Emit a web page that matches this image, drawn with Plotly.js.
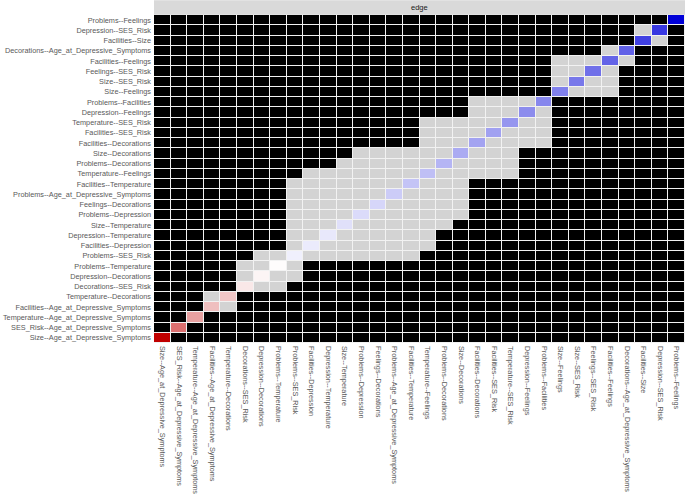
<!DOCTYPE html>
<html>
<head>
<meta charset="utf-8">
<script src="https://cdn.plot.ly/plotly-3.0.1.min.js"></script>
<style>html,body{margin:0;padding:0;background:#fff;}#chart{width:685px;height:496px;}</style>
</head>
<body>
<div id="chart"></div>
<script>
// Edges, in axis order (bottom-to-top on y, left-to-right on x)
const edges = [
  "Size--Age_at_Depressive_Symptoms",
  "SES_Risk--Age_at_Depressive_Symptoms",
  "Temperature--Age_at_Depressive_Symptoms",
  "Facilities--Age_at_Depressive_Symptoms",
  "Temperature--Decorations",
  "Decorations--SES_Risk",
  "Depression--Decorations",
  "Problems--Temperature",
  "Problems--SES_Risk",
  "Facilities--Depression",
  "Depression--Temperature",
  "Size--Temperature",
  "Problems--Depression",
  "Feelings--Decorations",
  "Problems--Age_at_Depressive_Symptoms",
  "Facilities--Temperature",
  "Temperature--Feelings",
  "Problems--Decorations",
  "Size--Decorations",
  "Facilities--Decorations",
  "Facilities--SES_Risk",
  "Temperature--SES_Risk",
  "Depression--Feelings",
  "Problems--Facilities",
  "Size--Feelings",
  "Size--SES_Risk",
  "Feelings--SES_Risk",
  "Facilities--Feelings",
  "Decorations--Age_at_Depressive_Symptoms",
  "Facilities--Size",
  "Depression--SES_Risk",
  "Problems--Feelings"
];

// Estimated edge weights (diagonal colour)
const edgeWeights = [
  -0.300, -0.168, -0.111, -0.075, -0.066, -0.027, -0.012, -0.003,
   0.018,  0.023,  0.027,  0.036,  0.042,  0.048,  0.060,  0.069,
   0.075,  0.087,  0.099,  0.108,  0.111,  0.123,  0.135,  0.141,
   0.150,  0.159,  0.168,  0.183,  0.186,  0.225,  0.234,  0.300
];

// Pairs whose difference is NOT significant (grey cells): [edge i, from j, to j]
const nonSigRanges = [
  [3, 4, 4],
  [5, 6, 7],
  [6, 7, 8],
  [7, 8, 8],
  [8, 9, 15],
  [9, 10, 16],
  [10, 11, 16],
  [11, 12, 17],
  [12, 13, 18],
  [13, 14, 18],
  [14, 15, 18],
  [15, 16, 18],
  [16, 17, 21],
  [17, 18, 21],
  [18, 19, 21],
  [19, 20, 23],
  [20, 21, 23],
  [21, 22, 23],
  [22, 23, 23],
  [24, 25, 27],
  [25, 26, 27],
  [26, 27, 27],
  [27, 28, 28],
  [29, 30, 30]
];

const n = edges.length;
// significance matrix: 1 = significant (black), 0 = not (grey)
const sig = [];
for (let r = 0; r < n; r++) { sig.push(new Array(n).fill(1)); }
nonSigRanges.forEach(([i, a, b]) => {
  for (let j = a; j <= b; j++) { sig[i][j] = 0; sig[j][i] = 0; }
});
const zSig = sig.map((row, r) => row.map((v, c) => (r === c ? null : v)));
const zDiag = edges.map((_, r) => edges.map((_, c) => (r === c ? edgeWeights[r] : null)));

const traceSig = {
  type: 'heatmap', x: edges, y: edges, z: zSig,
  colorscale: [[0, '#D3D3D3'], [0.5, '#D3D3D3'], [0.5, '#000000'], [1, '#000000']],
  zmin: 0, zmax: 1, showscale: false, xgap: 1, ygap: 1, hoverinfo: 'skip'
};
const traceDiag = {
  type: 'heatmap', x: edges, y: edges, z: zDiag,
  colorscale: [[0, '#C00000'], [0.5, '#FFFFFF'], [1, '#0000D8']],
  zmin: -0.3, zmax: 0.3, showscale: false, xgap: 1, ygap: 1, hoverinfo: 'skip'
};

const tickFont = { family: 'Liberation Sans, Arial, sans-serif', size: 7.3, color: '#595959' };

const layout = {
  width: 685, height: 496,
  margin: { l: 154, r: 0, t: 15, b: 153, pad: 0 },
  paper_bgcolor: '#FFFFFF', plot_bgcolor: '#F2F2F2',
  showlegend: false,
  xaxis: {
    type: 'category', tickangle: 90, tickfont: tickFont, ticks: '',
    showgrid: false, zeroline: false, showline: false, automargin: false,
    ticklabelstandoff: 2
  },
  yaxis: {
    type: 'category', tickfont: tickFont, ticks: '',
    showgrid: false, zeroline: false, showline: false, automargin: false,
    ticklabelstandoff: 2
  },
  shapes: [{
    type: 'rect', xref: 'paper', yref: 'paper', x0: 0, x1: 1, y0: 1.001, y1: 1.045,
    fillcolor: '#D9D9D9', line: { width: 0 }
  }],
  annotations: [{
    xref: 'paper', yref: 'paper', x: 0.5, y: 1.023, yanchor: 'middle', showarrow: false,
    text: 'edge', font: { family: 'Liberation Sans, Arial, sans-serif', size: 7.5, color: '#1A1A1A' }
  }]
};

Plotly.newPlot('chart', [traceSig, traceDiag], layout, { staticPlot: true, displayModeBar: false });
</script>
</body>
</html>
